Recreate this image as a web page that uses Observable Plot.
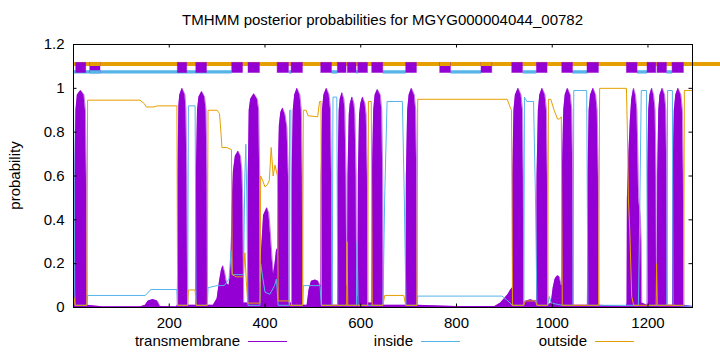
<!DOCTYPE html>
<html><head><meta charset="utf-8">
<script src="https://cdn.jsdelivr.net/npm/d3@7"></script>
<script src="https://cdn.jsdelivr.net/npm/@observablehq/plot@0.6"></script>
<style>body{margin:0;background:#fff} #chart{position:relative;width:720px;height:352px;overflow:hidden}</style>
</head><body><div id="chart"></div>
<script>
const title = "TMHMM posterior probabilities for MGYG000004044_00782";
const yAxisLabel = "probability";
const seqLength = 1293;
const xTicks = [200, 400, 600, 800, 1000, 1200];
const yTicks = [0, 0.2, 0.4, 0.6, 0.8, 1, 1.2];
const yTickLabels = ["0", "0.2", "0.4", "0.6", "0.8", "1", "1.2"];
const legendLabels = ["transmembrane", "inside", "outside"];

// posterior probability of transmembrane [position, probability]
const tmProb = [
[0,0.02],[2,0.05],[3,0.6],[5,0.9],[8,0.97],[15,0.99],[22,0.97],[25,0.9],[27,0.6],[28.5,0.01],
[60,0.003],[140,0.003],[150,0.01],[156,0.03],[166,0.036],[175,0.03],[181,0.005],[215,0.003],
[217,0.01],[218,0.6],[220,0.92],[222,0.97],[227,1.0],[233,0.97],[235,0.9],[237,0.6],[238.5,0.01],
[255.5,0.01],[256.5,0.6],[259,0.9],[262,0.96],[268,0.985],[274,0.96],[277,0.9],[279,0.6],[280,0.01],
[292,0.01],[300,0.04],[305,0.12],[309,0.17],[312,0.19],[316,0.16],[320,0.11],[325,0.1],[329,0.2],
[331,0.45],[334,0.62],[338,0.69],[344,0.713],[349,0.69],[352,0.62],[354,0.45],[355.5,0.02],
[364,0.02],[365,0.6],[367,0.9],[370,0.95],[377,0.975],[384,0.95],[387,0.9],[389,0.6],[390,0.08],
[393,0.27],[397,0.42],[404,0.455],[408,0.43],[411,0.35],[415,0.22],[418,0.15],[421,0.2],[424,0.26],[426.5,0.27],
[427.5,0.6],[430,0.83],[433,0.89],[437,0.91],[442,0.88],[446,0.82],[449,0.6],[450.5,0.02],
[455.5,0.02],[456.5,0.6],[459,0.9],[462,0.97],[467,1.0],[473,0.97],[476,0.9],[478,0.6],[479,0.01],
[488,0.01],[492,0.08],[497,0.12],[505,0.125],[511,0.12],[515,0.1],[517,0.1],
[517.5,0.6],[520,0.9],[523,0.97],[528.5,1.0],[534,0.97],[537,0.9],[539,0.6],[540.5,0.01],
[551.5,0.01],[552.5,0.6],[555,0.9],[557,0.95],[561,0.98],[565,0.95],[567,0.9],[569.5,0.6],[570.8,0.1],
[572.5,0.1],[573.3,0.6],[576,0.88],[578,0.93],[582,0.96],[586,0.93],[588,0.88],[590.5,0.6],[591.5,0.05],
[594,0.05],[595,0.6],[597.5,0.88],[600,0.93],[604,0.96],[609,0.93],[611.5,0.88],[614,0.6],[615,0.02],
[623.5,0.02],[624.3,0.6],[627,0.9],[630,0.97],[635,0.995],[641,0.97],[644,0.9],[646,0.6],[647,0.01],
[694.5,0.01],[695.3,0.6],[698,0.9],[701,0.97],[706,1.0],[712,0.97],[715,0.9],[717,0.6],[718,0.01],
[800,0.004],[880,0.004],[892,0.02],[900,0.04],[908,0.06],[913,0.08],[917,0.09],
[917.6,0.6],[920,0.9],[923,0.97],[929,1.0],[935,0.97],[938,0.9],[939.7,0.6],[940.5,0.02],
[945,0.03],[955,0.035],[963,0.03],[967.5,0.03],
[968.2,0.6],[971,0.9],[974,0.97],[979,1.0],[985,0.97],[988,0.9],[990,0.6],[991,0.01],
[998,0.02],[1002,0.09],[1006,0.13],[1011,0.145],[1015,0.14],[1019,0.1],[1020.5,0.1],
[1021,0.6],[1024,0.9],[1027,0.97],[1032,1.0],[1038,0.97],[1041,0.9],[1043,0.6],[1044,0.01],
[1073.5,0.01],[1074.7,0.6],[1077,0.9],[1080,0.97],[1085.5,1.0],[1091,0.97],[1094,0.9],[1096.5,0.6],[1097.5,0.01],
[1155,0.005],[1156.3,0.02],[1157,0.5],[1160,0.7],[1163,0.85],[1166,0.95],[1170,1.0],[1174,0.97],[1177,0.9],[1179,0.7],[1180.5,0.5],[1184,0.42],[1186,0.3],[1187,0.02],
[1198.5,0.01],[1199.3,0.6],[1201.5,0.9],[1204,0.97],[1208,1.0],[1212,0.97],[1215,0.9],[1217,0.6],[1218,0.05],
[1219.5,0.05],[1220.2,0.6],[1222.5,0.9],[1225,0.97],[1230,1.0],[1235,0.97],[1237.5,0.9],[1239.4,0.6],[1240.5,0.01],
[1251.5,0.01],[1252.4,0.6],[1255,0.9],[1258,0.97],[1263,1.0],[1269,0.97],[1272,0.9],[1274,0.6],[1275,0.01],
[1293,0.005]
];

// posterior probability of inside
const insideProb = [
[0,0.95],[1.5,0.6],[2.5,0.08],[3.5,0.01],[28,0.01],[29.5,0.055],[150,0.055],[156,0.07],[162,0.082],[216,0.082],
[217.5,0.01],[238.5,0.01],[240,0.92],[254,0.92],[256,0.01],[279.5,0.01],[281,0.09],[300,0.1],[315,0.1],[325,0.13],
[329,0.26],[331.5,0.15],[355,0.15],[358,0.6],[360,0.745],[362,0.5],[364.5,0.01],[389.5,0.01],[391,0.2],[395,0.14],
[400,0.07],[410,0.06],[420,0.1],[424,0.13],[427.5,0.01],[450.5,0.01],[451.5,0.9],[454,0.9],[455.5,0.01],[478.5,0.01],
[480,0.1],[515,0.1],[517.5,0.01],[540.5,0.01],[542,0.96],[550,0.96],[552,0.01],[591,0.01],[592.5,0.3],[594.5,0.01],
[646.5,0.01],[650,0.5],[655,0.94],[687,0.94],[691,0.5],[694.5,0.01],[717.5,0.01],[719,0.052],[895,0.052],[905,0.035],
[912,0.02],[917,0.01],[940.5,0.01],[942,0.96],[947,0.94],[961,0.94],[965,0.5],[968,0.01],[990.5,0.01],[994,0.05],
[998,0.02],[1021,0.01],[1043.5,0.01],[1045,0.99],[1072,0.99],[1074.5,0.01],[1097,0.01],[1180,0.01],[1182,0.3],[1186,0.99],
[1197,0.99],[1199,0.01],[1239.5,0.01],[1241,0.99],[1251,0.99],[1252.5,0.01],[1293,0.005]
];

// posterior probability of outside
const outsideProb = [
[0,0.05],[2,0.04],[3,0.01],[28,0.01],[29.5,0.946],[139,0.946],[148,0.93],[152,0.915],[168,0.915],[175,0.92],
[216,0.92],[217.5,0.01],[238.5,0.01],[240,0.08],[254,0.08],[256,0.01],[279.5,0.01],[281,0.9],[300,0.9],[305,0.885],
[308,0.8],[310,0.73],[320,0.73],[330,0.72],[331.5,0.15],[340,0.14],[355,0.14],[358,0.25],[361,0.12],[364,0.02],
[389.5,0.02],[391,0.6],[395,0.58],[400,0.55],[405,0.56],[409,0.58],[413,0.73],[417,0.6],[421,0.65],[426,0.6],
[427.5,0.03],[450.5,0.03],[452,0.01],[478.5,0.01],[480,0.9],[486,0.9],[490,0.875],[510,0.87],[514,0.94],[517,0.94],
[518,0.01],[570.5,0.01],[571.5,0.3],[573,0.01],[614.5,0.01],[616,0.94],[622,0.94],[624,0.01],[646.5,0.01],[650,0.055],
[690,0.055],[694,0.01],[717.5,0.01],[719,0.95],[906,0.95],[911,0.92],[915,0.9],[917,0.01],[940.5,0.01],[944,0.03],
[965,0.03],[968,0.01],[990.5,0.01],[992,0.95],[997,0.95],[1004,0.9],[1011,0.86],[1015,0.86],[1019,0.87],[1021,0.01],
[1097,0.01],[1099,1.0],[1155,1.0],[1157,0.8],[1159,0.5],[1162,0.35],[1166,0.05],[1170,0.01],[1217,0.01],[1218,0.2],
[1219.5,0.01],[1274.5,0.01],[1276,0.99],[1293,0.99]
];

// top band: predicted topology
const topOutside = [[0, 1400]];
const topInside = [[0,331],[450.6,456.9],[539.8,552.3],[591.2,594.8],[647,695],[788.4,852.3],[939.4,968],[1043,1074.4],[1178.2,1199.1],[1239.6,1251.4]];
const topTM = [[5.6,26.5],[35,56.4],[218,237.5],[256.5,278.8],[331.5,354],[365.6,389.4],[426.4,450],[455.6,479.2],[517.5,539.8],[552.3,570.3],[573.2,591.2],[594.8,615],[624,647],[695,717.3],[766,788.4],[852.3,874.7],[916.5,938.8],[968,990.2],[1021,1043.3],[1073.7,1097.5],[1156,1178.2],[1199.1,1217.3],[1220,1239.6],[1251.4,1275]];
const topOutsideOver = [[35,56.4],[766,788.4],[852.3,874.7]];
const topInsideOver = [[35,56.4]];

const W = 720, H = 352, mL = 73, mR = 28, mT = 44, mB = 45;
const xDomain = [0, seqLength], yDomain = [0, 1.2];
const tickPx = 3.5;
const xTickLen = tickPx * (xDomain[1] - xDomain[0]) / (W - mL - mR);
const yTickLen = tickPx * (yDomain[1] - yDomain[0]) / (H - mT - mB);
const PURPLE = "#9400d3", BLUE = "#56b4e9", ORANGE = "#e69f00";
const yOut = 1.111, yIn = 1.075, yBoxLo = 1.070, yBoxHi = 1.116;

const toObj = arr => arr.map(([x, y]) => ({x, y}));
const tm = toObj(tmProb), inside = toObj(insideProb), outside = toObj(outsideProb);

const chart = Plot.plot({
  width: W, height: H, marginLeft: mL, marginRight: mR, marginTop: mT, marginBottom: mB,
  style: {fontFamily: "'Liberation Sans', Arial, sans-serif", fontSize: "15px", background: "#fff", color: "#000", overflow: "hidden"},
  x: {domain: xDomain, ticks: xTicks, tickSize: 0, tickPadding: 10, tickFormat: d => String(d), label: null},
  y: {domain: yDomain, ticks: yTicks, tickSize: 0, tickPadding: 9, tickFormat: d => yTickLabels[yTicks.indexOf(d)], label: null},
  marks: [
    Plot.areaY(tm, {x: "x", y: "y", fill: PURPLE}),
    Plot.line(tm, {x: "x", y: "y", stroke: PURPLE, strokeWidth: 1, strokeOpacity: 0.5}),
    Plot.line(inside, {x: "x", y: "y", stroke: BLUE, strokeWidth: 1}),
    Plot.line(outside, {x: "x", y: "y", stroke: ORANGE, strokeWidth: 1}),
    Plot.ruleY(topOutside, {x1: d => d[0], x2: d => d[1], y: yOut, stroke: ORANGE, strokeWidth: 4}),
    Plot.ruleY(topInside, {x1: d => d[0], x2: d => d[1], y: yIn, stroke: BLUE, strokeWidth: 3.3}),
    Plot.rect(topTM, {x1: d => d[0], x2: d => d[1], y1: yBoxLo, y2: yBoxHi, fill: PURPLE, stroke: PURPLE, strokeOpacity: 0.45, strokeWidth: 1}),
    Plot.ruleY(topOutsideOver, {x1: d => d[0], x2: d => d[1], y: yOut, stroke: ORANGE, strokeWidth: 4}),
    Plot.ruleY(topInsideOver, {x1: d => d[0], x2: d => d[1], y: yIn, stroke: BLUE, strokeWidth: 3.3}),
    Plot.ruleY(yTicks, {y: d => d, x1: xDomain[0], x2: xDomain[0] + xTickLen, stroke: "#000"}),
    Plot.ruleY(yTicks, {y: d => d, x1: xDomain[1] - xTickLen, x2: xDomain[1], stroke: "#000"}),
    Plot.ruleX(xTicks, {x: d => d, y1: yDomain[0], y2: yDomain[0] + yTickLen, stroke: "#000"}),
    Plot.ruleX(xTicks, {x: d => d, y1: yDomain[1] - yTickLen, y2: yDomain[1], stroke: "#000"}),
    Plot.frame({stroke: "#000"})
  ]
});
document.getElementById("chart").appendChild(chart);

const svg = d3.select(chart);
const font = "'Liberation Sans', Arial, sans-serif";
svg.append("text").attr("x", (mL + W - mR) / 2).attr("y", 25).attr("text-anchor", "middle")
  .attr("font-family", font).attr("font-size", 15).attr("fill", "#000").text(title);
svg.append("text").attr("transform", `translate(20,${(mT + H - mB) / 2}) rotate(-90)`).attr("text-anchor", "middle")
  .attr("font-family", font).attr("font-size", 15).attr("fill", "#000").text(yAxisLabel);
const legendColors = [PURPLE, BLUE, ORANGE];
const legendTextRight = [240, 413, 587];
legendLabels.forEach((lab, i) => {
  const xr = legendTextRight[i];
  svg.append("text").attr("x", xr).attr("y", 346).attr("text-anchor", "end")
    .attr("font-family", font).attr("font-size", 15).attr("fill", "#000").text(lab);
  svg.append("line").attr("x1", xr + 8).attr("x2", xr + 47).attr("y1", 341.5).attr("y2", 341.5)
    .attr("stroke", legendColors[i]).attr("stroke-width", 1);
});
</script>
</body></html>
